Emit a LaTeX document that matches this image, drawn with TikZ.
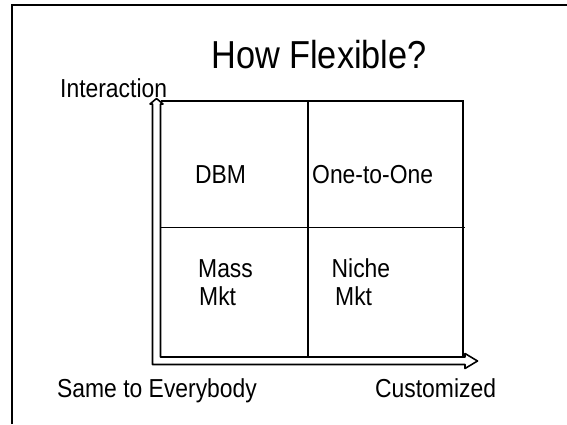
\documentclass[tikz,border=0pt]{standalone}
\usepackage{fontspec}
\newfontfamily\narrowsans[FakeStretch=0.88]{Liberation Sans}
\begin{document}
\begin{tikzpicture}[x=1pt,y=-1pt,
  lbl/.style={inner sep=0pt,anchor=base west,font=\narrowsans\fontsize{26}{28}\selectfont},
  gridline/.style={line width=1.6pt},
  axis/.style={line width=1.6pt,line join=round,fill=white}]
\useasboundingbox (0,0) rectangle (567,424);
% slide frame
\draw[line width=2.4pt] (12,424) -- (12,5) -- (567,5);
% title
\node[inner sep=0pt,anchor=base,font=\narrowsans\fontsize{39}{42}\selectfont] (title) at (319,68) {How Flexible?};
% axes drawn as one hollow L-shaped block arrow
\draw[axis] (152.5,364.5) -- (152.5,104) -- (150,104) -- (156.5,98.5) -- (163,104) -- (160.5,104)
  -- (160.5,357) -- (465,357) -- (465,353.5) -- (477.5,361) -- (465,368.5) -- (465,364.5) -- cycle;
% the 2x2 grid
\draw[gridline] (160.5,101) -- (463,101) -- (463,357);
\draw[gridline] (308,101) -- (308,357);
\draw[gridline] (160.5,227.5) -- (465,227.5);
% axis labels
\node[lbl] (yl) at (60,97.5) {Interaction};
\node[lbl] (xl) at (57,397) {Same to Everybody};
\node[lbl] (xr) at (375,397) {Customized};
% quadrant labels
\node[lbl] (q1) at (195,183.5) {DBM};
\node[lbl] (q2) at (312,183.5) {One-to-One};
\node[lbl] (q3a) at (198,277.5) {Mass};
\node[lbl] (q3b) at (199,305.5) {Mkt};
\node[lbl] (q4a) at (331.5,277.5) {Niche};
\node[lbl] (q4b) at (335,305.5) {Mkt};
\end{tikzpicture}
\end{document}
